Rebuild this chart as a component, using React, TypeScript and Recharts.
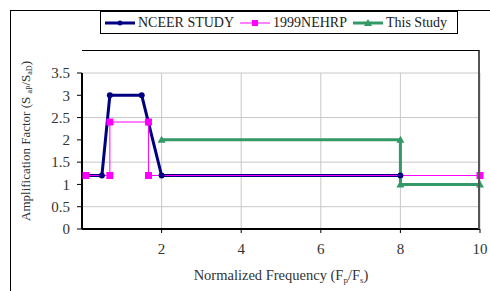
import { CartesianGrid, Legend, Line, LineChart, XAxis, YAxis } from "recharts";

const nceerX = [0.1, 0.5, 0.7, 1.5, 2, 8];
const nceerY = [1.2, 1.2, 3, 3, 1.2, 1.2];
const nehrpX = [0.1, 0.7, 0.7, 1.67, 1.67, 10];
const nehrpY = [1.2, 1.2, 2.4, 2.4, 1.2, 1.2];
const studyX = [2, 8, 8, 10];
const studyY = [2, 2, 1, 1];
const xTicks = [2, 4, 6, 8, 10];
const yTicks = [0, 0.5, 1, 1.5, 2, 2.5, 3, 3.5];

const nceer = nceerX.map((x, i) => ({ x, y: nceerY[i] }));
const nehrp = nehrpX.map((x, i) => ({ x, y: nehrpY[i] }));
const study = studyX.map((x, i) => ({ x, y: studyY[i] }));

const FONT = "'Liberation Serif', 'DejaVu Serif', serif";
const NAVY = "#000080";
const PINK = "#FF00FF";
const GREEN = "#339966";

const Dot = (p: any) => (
  <circle cx={p.cx} cy={p.cy} r={3} fill={NAVY} stroke="none" />
);
const Square = (p: any) => (
  <rect x={p.cx - 3.5} y={p.cy - 3.5} width={7} height={7} fill={PINK} />
);
const Tri = (p: any) => (
  <polygon
    points={`${p.cx},${p.cy - 4} ${p.cx - 4},${p.cy + 3} ${p.cx + 4},${p.cy + 3}`}
    fill={GREEN}
  />
);

function LegendBox() {
  const item = (label: string, color: string, w: number, marker: any) => (
    <span style={{ display: "inline-flex", alignItems: "center", marginRight: 6 }}>
      <svg width={30} height={10}>
        <line x1={0} y1={5} x2={30} y2={5} stroke={color} strokeWidth={w} />
        {marker}
      </svg>
      <span style={{ marginLeft: 3 }}>{label}</span>
    </span>
  );
  return (
    <div
      style={{
        border: "1px solid #000",
        background: "#fff",
        fontFamily: FONT,
        fontSize: 14,
        color: "#222",
        padding: "1px 4px",
        height: 19,
        display: "flex",
        alignItems: "center",
        whiteSpace: "nowrap",
      }}
    >
      {item("NCEER STUDY", NAVY, 3, <circle cx={15} cy={5} r={2.5} fill={NAVY} />)}
      {item("1999NEHRP", PINK, 1, <rect x={12} y={2} width={6} height={6} fill={PINK} />)}
      {item("This Study", GREEN, 3, <polygon points="15,1 11,8 19,8" fill={GREEN} />)}
    </div>
  );
}

export default function App() {
  return (
    <div style={{ position: "absolute", left: 0, top: 0, width: 490, height: 291, background: "#fff" }}>
      <div
        style={{
          position: "absolute",
          left: 10,
          top: 10,
          width: 480,
          height: 281,
          borderLeft: "1px solid #000",
          borderTop: "1px solid #000",
        }}
      />
      <LineChart
        width={490}
        height={291}
        margin={{ top: 50, right: 10, bottom: 32, left: 22 }}
        style={{ position: "absolute", left: 0, top: 0 }}
      >
        <CartesianGrid stroke="#c8c8c8" strokeWidth={1} />
        <XAxis
          type="number"
          dataKey="x"
          domain={[0, 10]}
          ticks={xTicks}
          axisLine={{ stroke: "#000", strokeWidth: 2 }}
          tickLine={{ stroke: "#000" }}
          tickSize={4}
          tickMargin={10}
          height={30}
          tick={{ fontFamily: FONT, fontSize: 15, fill: "#333" }}
          label={{
            content: () => (
              <text x={281} y={280} textAnchor="middle" fontFamily={FONT} fontSize={14.5} fill="#333">
                Normalized Frequency (F
                <tspan fontSize={9} dy={3}>p</tspan>
                <tspan dy={-3}>/F</tspan>
                <tspan fontSize={9} dy={3}>s</tspan>
                <tspan dy={-3}>)</tspan>
              </text>
            ),
          }}
        />
        <YAxis
          type="number"
          domain={[0, 3.5]}
          ticks={yTicks}
          width={60}
          axisLine={{ stroke: "#000", strokeWidth: 2 }}
          tickLine={{ stroke: "#000" }}
          tickSize={5}
          tickMargin={7}
          tick={{ fontFamily: FONT, fontSize: 15, fill: "#333" }}
          label={{
            content: () => (
              <text
                x={30}
                y={141}
                textAnchor="middle"
                transform="rotate(-90 30 141)"
                fontFamily={FONT}
                fontSize={13}
                fill="#333"
              >
                Amplification Factor (S{" "}
                <tspan fontSize={8} dy={2}>aP</tspan>
                <tspan dy={-2}>/S</tspan>
                <tspan fontSize={8} dy={2}>aD</tspan>
                <tspan dy={-2}>)</tspan>
              </text>
            ),
          }}
        />
        <Legend
          content={() => <LegendBox />}
          verticalAlign="top"
          wrapperStyle={{ position: "absolute", top: 11, left: 100, width: "auto" }}
        />
        <Line
          data={nceer}
          dataKey="y"
          name="NCEER STUDY"
          stroke={NAVY}
          strokeWidth={3}
          dot={<Dot />}
          isAnimationActive={false}
        />
        <Line
          data={nehrp}
          dataKey="y"
          name="1999NEHRP"
          stroke={PINK}
          strokeWidth={1}
          dot={<Square />}
          isAnimationActive={false}
        />
        <Line
          data={study}
          dataKey="y"
          name="This Study"
          stroke={GREEN}
          strokeWidth={3}
          dot={<Tri />}
          isAnimationActive={false}
        />
      </LineChart>
      <div
        style={{
          position: "absolute",
          left: 82,
          top: 50,
          width: 398,
          height: 179,
          borderTop: "1px solid #000",
          borderRight: "2px solid #555",
          boxSizing: "border-box",
          pointerEvents: "none",
        }}
      />
    </div>
  );
}
